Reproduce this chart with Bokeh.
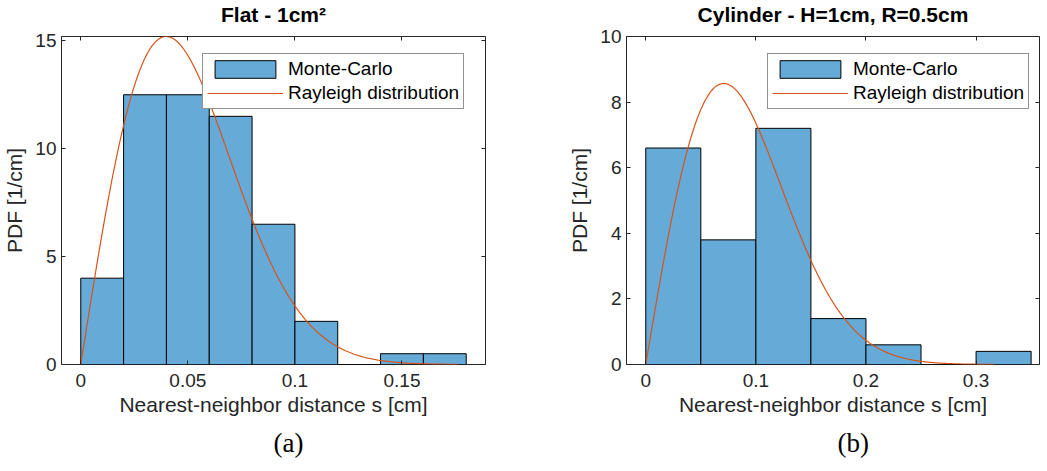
import numpy as np
from bokeh.plotting import figure
from bokeh.models import (LinearAxis, FixedTicker, NumeralTickFormatter, Range1d,
                          Legend, LegendItem, Title, CustomLabelingPolicy)
from bokeh.layouts import row
from bokeh.embed import file_html
from bokeh.resources import INLINE

# ---------------- data ----------------
flat_title = "Flat - 1cm²"
flat_bin_edges = [0.0, 0.02, 0.04, 0.06, 0.08, 0.10, 0.12, 0.14, 0.16, 0.18]
flat_pdf = [4.0, 12.5, 12.5, 11.5, 6.5, 2.0, 0.0, 0.5, 0.5]
flat_sigma = 0.0399          # Rayleigh scale parameter (peak ~15.2 at s~0.04)
flat_s_max = 0.176
flat_xticks = [0, 0.05, 0.1, 0.15]
flat_yticks = [0, 5, 10, 15]

cyl_title = "Cylinder - H=1cm, R=0.5cm"
cyl_bin_edges = [0.0, 0.05, 0.10, 0.15, 0.20, 0.25, 0.30, 0.35]
cyl_pdf = [6.6, 3.8, 7.2, 1.4, 0.6, 0.0, 0.4]
cyl_sigma = 0.0708           # Rayleigh scale parameter (peak ~8.56 at s~0.07)
cyl_s_max = 0.316
cyl_xticks = [0, 0.1, 0.2, 0.3]
cyl_yticks = [0, 2, 4, 6, 8, 10]

x_label = "Nearest-neighbor distance s [cm]"
y_label = "PDF [1/cm]"
legend_labels = ["Monte-Carlo", "Rayleigh distribution"]

BAR_FILL = "#66AAD7"
LINE_COL = "#D95319"
AX_COL = "#262626"
FONT = "Liberation Sans"

NO_LABELS = CustomLabelingPolicy(
    code="for (let i = 0; i < indices.size; i++) { indices.unset(i) }\nreturn indices")


def rayleigh(s, sigma):
    return s / sigma**2 * np.exp(-s**2 / (2 * sigma**2))


def panel(title, edges, pdf, sigma, smax, xr, yr, xticks, yticks,
          frame_w, b_left, b_right, caption, cap_offset):
    p = figure(frame_width=frame_w, frame_height=328,
               x_range=Range1d(*xr), y_range=Range1d(*yr),
               output_backend="svg", toolbar_location=None,
               min_border_left=b_left, min_border_right=b_right,
               min_border_top=28, min_border_bottom=90,
               background_fill_color="white", border_fill_color="white")
    p.grid.visible = False
    p.outline_line_color = AX_COL
    p.outline_line_width = 1

    p.title.text = title
    p.title.align = "center"
    p.title.text_font = FONT
    p.title.text_font_size = "21px"
    p.title.text_font_style = "bold"
    p.title.text_color = "black"
    p.title.standoff = 0

    bars = p.quad(left=edges[:-1], right=edges[1:], bottom=0, top=pdf,
                  fill_color=BAR_FILL, line_color="black", line_width=1)
    s = np.linspace(0, smax, 300)
    line = p.line(s, rayleigh(s, sigma), line_color=LINE_COL, line_width=1.2)

    for ax in (p.xaxis[0], p.yaxis[0]):
        ax.axis_line_color = None
        ax.major_tick_in = 4
        ax.major_tick_out = 0
        ax.major_tick_line_color = AX_COL
        ax.minor_tick_line_color = None
        ax.major_label_text_font = FONT
        ax.major_label_text_font_size = "19px"
        ax.major_label_text_color = AX_COL
        ax.axis_label_text_font = FONT
        ax.axis_label_text_font_size = "21px"
        ax.axis_label_text_font_style = "normal"
        ax.axis_label_text_color = AX_COL
    p.xaxis[0].ticker = FixedTicker(ticks=xticks)
    p.xaxis[0].formatter = NumeralTickFormatter(format="0.[00]")
    p.yaxis[0].ticker = FixedTicker(ticks=yticks)
    p.xaxis[0].axis_label = x_label
    p.yaxis[0].axis_label = y_label
    p.xaxis[0].major_label_standoff = 9
    p.xaxis[0].axis_label_standoff = 3
    p.yaxis[0].major_label_standoff = 5
    p.yaxis[0].axis_label_standoff = 6

    for loc, ticks in (("above", xticks), ("right", yticks)):
        ax = LinearAxis(ticker=FixedTicker(ticks=ticks),
                        major_label_policy=NO_LABELS,
                        major_label_standoff=0, axis_line_color=None,
                        major_tick_in=4, major_tick_out=0,
                        major_tick_line_color=AX_COL,
                        minor_tick_line_color=None)
        p.add_layout(ax, loc)

    legend = Legend(items=[LegendItem(label=legend_labels[0], renderers=[bars]),
                           LegendItem(label=legend_labels[1], renderers=[line])],
                    location=(141, 255), glyph_width=76, glyph_height=22,
                    label_height=22, label_standoff=5, padding=4, spacing=2,
                    label_text_font=FONT, label_text_font_size="19px",
                    label_text_color="black", border_line_color=AX_COL,
                    border_line_width=1, background_fill_color="white",
                    background_fill_alpha=1.0)
    p.add_layout(legend)

    cap = Title(text=caption, align="left", offset=cap_offset,
                text_font="Liberation Serif", text_font_size="27px",
                text_font_style="normal", text_color="black", standoff=15)
    p.add_layout(cap, "below")
    return p


pa = panel(flat_title, flat_bin_edges, flat_pdf, flat_sigma, flat_s_max,
           (-0.009, 0.189), (0, 15.2), flat_xticks, flat_yticks,
           424, 52, 80, "(a)", 212)
pb = panel(cyl_title, cyl_bin_edges, cyl_pdf, cyl_sigma, cyl_s_max,
           (-0.0175, -0.0175 + 413 / 1101), (0, 10), cyl_xticks, cyl_yticks,
           413, 60, 1, "(b)", 211)

layout = row(pa, pb)
open("out.html", "w").write(file_html(layout, INLINE))
